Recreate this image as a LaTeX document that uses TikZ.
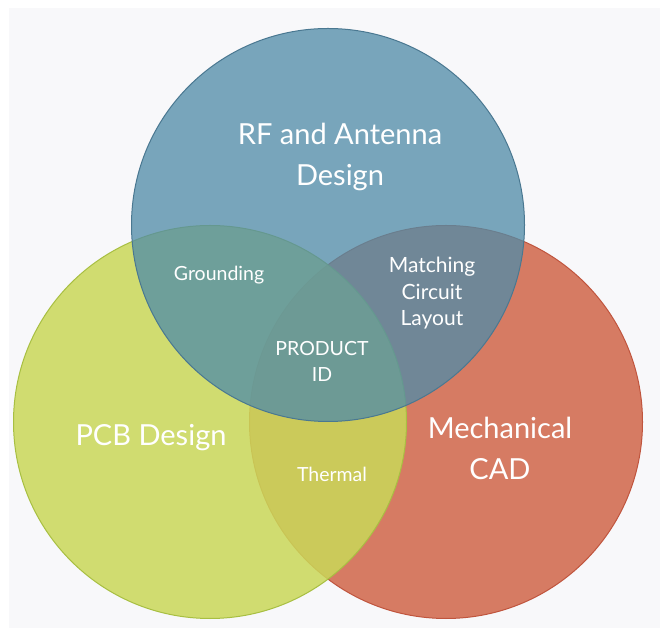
\documentclass[tikz,border=0pt]{standalone}
\usepackage{fontspec}
\setmainfont{Lato}
\usepackage{tikz}
\usetikzlibrary {
  positioning,
  backgrounds,
}
\definecolor{paper}{HTML}{F8F8FA}
\definecolor{rffill}{HTML}{508CA8}
\definecolor{rfline}{HTML}{4A7891}
\definecolor{pcbfill}{HTML}{CAD859}
\definecolor{pcbline}{HTML}{A8BF42}
\definecolor{cadfill}{HTML}{D67B63}
\definecolor{cadline}{HTML}{C0553E}
\tikzset{
  set/.style = {
    circle,
    inner sep = 0pt,
    minimum size = 393pt,
    line width = 1pt,
    draw = #1line,
    fill = #1fill
  },
  title/.style = {
    text = white,
    align = center,
    anchor = base,
    font = \fontsize{29}{41}\selectfont
  },
  overlap/.style = {
    text = white,
    align = center,
    anchor = base,
    font = \fontsize{19.5}{26.5}\selectfont
  },
}

\begin{document}
\begin{tikzpicture}[x = 1pt, y = 1pt]
  \useasboundingbox (0,0) rectangle (660,628);
  \fill[paper] (9,0) rectangle (660,620);
  % the three sets
  \node[set = cad] (cad) at (446,206) {};
  \node[set = pcb, fill opacity = .85] (pcb) at (210,206) {};
  \node[set = rf, fill opacity = .76] (rf) at (328,403) {};
  % set titles (base = last line)
  \node[title] (rftitle) at (340,442) {RF and Antenna\\Design};
  \node[title] (pcbtitle) at (151,182) {PCB Design};
  \node[title] (cadtitle) at (500,148) {Mechanical\\CAD};
  % overlaps
  \node[overlap] (grounding) at (219,347) {Grounding};
  \node[overlap, font = \fontsize{21}{26.5}\selectfont] (matching) at (432,302) {Matching\\Circuit\\Layout};
  \node[overlap] (product) at (322,246) {PRODUCT\\ID};
  \node[overlap] (thermal) at (332,146) {Thermal};
\end{tikzpicture}
\end{document}
